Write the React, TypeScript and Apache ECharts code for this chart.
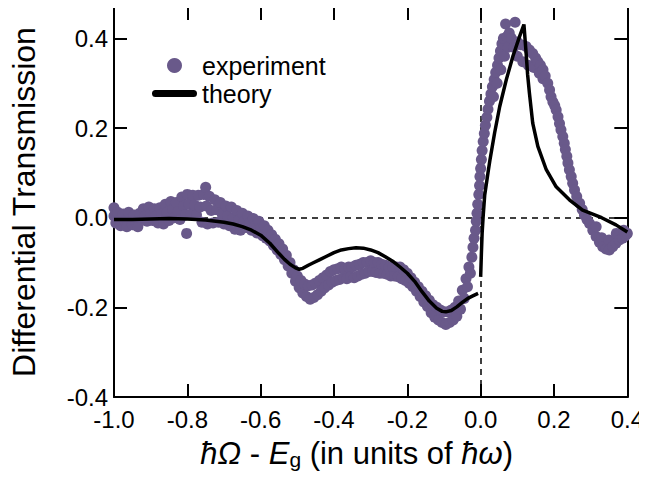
import React, { useEffect, useRef } from "react";
import * as echarts from "echarts";

const FONT = "'Liberation Sans', Arial, Helvetica, sans-serif";
const DOT_COLOR = "#69598a";

const X_MIN = -1.0;
const X_MAX = 0.4;
const Y_MIN = -0.4;
const Y_MAX = 0.47;
const TICK_STEP = 0.2;

const xTitle = "{i|ħΩ} - {i|E}{s|g} (in units of {i|ħω})";
const yTitle = "Differential Transmission";
const seriesNames = ["experiment", "theory"];

// experiment: measured differential transmission (dots)
const experiment: [number, number][] = [
  [-1.0, 0.022], [-1.0, 0.004], [-0.995, -0.012],
  [-0.99, 0.012], [-0.985, -0.004], [-0.982, -0.018],
  [-0.975, 0.008], [-0.97, -0.008], [-0.965, -0.02],
  [-0.96, 0.012], [-0.955, -0.002], [-0.95, -0.016],
  [-0.945, 0.006], [-0.94, -0.01], [-0.935, -0.02],
  [-0.93, 0.01], [-0.925, -0.004], [-0.92, 0.02],
  [-0.915, 0.004], [-0.91, -0.008], [-0.905, 0.024],
  [-0.9, 0.01], [-0.895, -0.006], [-0.89, 0.02],
  [-0.885, 0.004], [-0.88, -0.012], [-0.875, 0.022],
  [-0.87, 0.008], [-0.865, -0.014], [-0.86, 0.03],
  [-0.855, 0.012], [-0.85, -0.006], [-0.845, 0.036],
  [-0.84, 0.018], [-0.835, 0.0], [-0.83, 0.034],
  [-0.825, 0.014], [-0.82, -0.004], [-0.815, 0.046],
  [-0.81, 0.026], [-0.805, 0.006], [-0.8, 0.052],
  [-0.802, -0.035], [-0.795, 0.03], [-0.79, 0.008],
  [-0.785, 0.05], [-0.78, 0.028], [-0.775, 0.006],
  [-0.77, 0.05], [-0.765, 0.024], [-0.76, -0.01],
  [-0.755, 0.052], [-0.75, 0.068], [-0.748, 0.026], [-0.745, -0.014],
  [-0.74, 0.048], [-0.735, 0.016], [-0.73, -0.012],
  [-0.725, 0.04], [-0.72, 0.018], [-0.715, -0.01],
  [-0.71, 0.034], [-0.705, 0.008], [-0.7, -0.014],
  [-0.695, 0.026], [-0.69, 0.004], [-0.685, -0.018],
  [-0.68, 0.024], [-0.675, 0.0], [-0.67, -0.026],
  [-0.665, 0.016], [-0.66, -0.006], [-0.655, -0.028],
  [-0.65, 0.01], [-0.645, -0.008], [-0.64, -0.022],
  [-0.635, 0.004], [-0.63, -0.012], [-0.625, -0.028],
  [-0.62, -0.002], [-0.615, -0.018], [-0.61, -0.034],
  [-0.605, -0.008], [-0.6, -0.024], [-0.595, -0.04],
  [-0.59, -0.018], [-0.585, -0.046],
  [-0.58, -0.028], [-0.575, -0.052],
  [-0.57, -0.038], [-0.565, -0.062],
  [-0.56, -0.048], [-0.555, -0.072],
  [-0.55, -0.058], [-0.545, -0.082],
  [-0.54, -0.07], [-0.535, -0.094],
  [-0.53, -0.084], [-0.525, -0.108],
  [-0.52, -0.1], [-0.515, -0.124],
  [-0.51, -0.116], [-0.505, -0.142],
  [-0.5, -0.13], [-0.495, -0.156],
  [-0.49, -0.14], [-0.485, -0.168],
  [-0.48, -0.148], [-0.475, -0.176],
  [-0.47, -0.152], [-0.465, -0.182],
  [-0.46, -0.15], [-0.455, -0.178],
  [-0.45, -0.146], [-0.445, -0.172],
  [-0.44, -0.14], [-0.435, -0.164],
  [-0.43, -0.134], [-0.425, -0.156],
  [-0.42, -0.128], [-0.415, -0.15],
  [-0.41, -0.12], [-0.405, -0.144],
  [-0.4, -0.116], [-0.395, -0.14],
  [-0.39, -0.114], [-0.385, -0.138],
  [-0.38, -0.11], [-0.375, -0.134],
  [-0.37, -0.114], [-0.365, -0.136],
  [-0.36, -0.11], [-0.355, -0.132],
  [-0.35, -0.11], [-0.345, -0.134],
  [-0.34, -0.106], [-0.335, -0.13],
  [-0.33, -0.104], [-0.325, -0.126],
  [-0.32, -0.1], [-0.315, -0.124],
  [-0.31, -0.1], [-0.305, -0.12],
  [-0.3, -0.096], [-0.295, -0.12],
  [-0.29, -0.1], [-0.285, -0.122],
  [-0.28, -0.1], [-0.275, -0.124],
  [-0.27, -0.104], [-0.265, -0.124],
  [-0.26, -0.106], [-0.255, -0.126],
  [-0.25, -0.11], [-0.245, -0.13],
  [-0.24, -0.11], [-0.235, -0.13],
  [-0.23, -0.11], [-0.225, -0.132],
  [-0.22, -0.11], [-0.215, -0.136],
  [-0.21, -0.116], [-0.205, -0.14],
  [-0.2, -0.124], [-0.195, -0.146],
  [-0.19, -0.134], [-0.185, -0.154],
  [-0.18, -0.144], [-0.175, -0.164],
  [-0.17, -0.154], [-0.165, -0.176],
  [-0.16, -0.164], [-0.155, -0.188],
  [-0.15, -0.174], [-0.145, -0.198],
  [-0.14, -0.184], [-0.135, -0.212],
  [-0.13, -0.194], [-0.125, -0.222],
  [-0.12, -0.2], [-0.115, -0.228],
  [-0.11, -0.206], [-0.105, -0.234],
  [-0.1, -0.21], [-0.095, -0.238],
  [-0.09, -0.21], [-0.085, -0.234],
  [-0.08, -0.206], [-0.075, -0.228],
  [-0.07, -0.2], [-0.065, -0.22],
  [-0.06, -0.186], [-0.055, -0.204],
  [-0.05, -0.162], [-0.045, -0.18],
  [-0.04, -0.136], [-0.036, -0.154],
  [-0.032, -0.11], [-0.028, -0.124],
  [-0.024, -0.088], [-0.021, -0.066],
  [-0.018, -0.046], [-0.014, -0.028],
  [-0.012, -0.008], [-0.01, 0.01],
  [-0.008, 0.03], [-0.005, 0.052],
  [-0.003, 0.072], [-0.002, 0.092],
  [0.0, 0.11], [0.002, 0.13],
  [0.004, 0.15], [0.007, 0.17],
  [0.01, 0.188], [0.013, 0.206],
  [0.017, 0.224], [0.02, 0.242],
  [0.024, 0.26], [0.028, 0.276],
  [0.032, 0.292], [0.037, 0.308],
  [0.041, 0.324], [0.046, 0.34],
  [0.05, 0.356], [0.054, 0.372],
  [0.058, 0.388], [0.062, 0.4],
  [0.035, 0.27], [0.045, 0.3], [0.055, 0.33], [0.065, 0.36], [0.075, 0.38],
  [0.068, 0.432], [0.072, 0.404],
  [0.078, 0.412], [0.084, 0.4],
  [0.094, 0.436], [0.09, 0.38],
  [0.1, 0.392], [0.1, 0.36], [0.11, 0.386], [0.115, 0.348],
  [0.124, 0.382], [0.13, 0.34], [0.133, 0.374], [0.142, 0.366],
  [0.145, 0.335], [0.15, 0.356], [0.156, 0.348], [0.16, 0.322],
  [0.163, 0.34], [0.17, 0.33], [0.17, 0.31], [0.176, 0.316],
  [0.183, 0.3], [0.188, 0.285], [0.192, 0.27], [0.197, 0.258],
  [0.202, 0.25], [0.206, 0.24], [0.211, 0.225], [0.215, 0.21],
  [0.219, 0.196], [0.224, 0.181], [0.228, 0.166], [0.231, 0.152],
  [0.235, 0.137], [0.238, 0.122], [0.242, 0.107], [0.247, 0.092],
  [0.251, 0.077], [0.256, 0.062], [0.262, 0.047], [0.27, 0.032],
  [0.277, 0.018], [0.283, 0.006], [0.29, -0.004], [0.297, -0.013],
  [0.306, -0.028], [0.315, -0.042], [0.315, -0.02], [0.324, -0.055],
  [0.33, -0.045], [0.333, -0.065], [0.342, -0.07], [0.35, -0.05],
  [0.351, -0.072], [0.36, -0.065], [0.369, -0.057], [0.37, -0.035],
  [0.378, -0.05], [0.387, -0.046], [0.39, -0.028], [0.395, -0.04],
  [0.4, -0.035],
];

// theory: calculated curve, below the gap (E < Eg) and above it
const theoryBelow: [number, number][] = [
  [-1.0, -0.004], [-0.95, -0.004], [-0.9, -0.003], [-0.85, -0.002],
  [-0.8, -0.003], [-0.75, -0.005], [-0.7, -0.01], [-0.675, -0.014],
  [-0.65, -0.02], [-0.625, -0.028], [-0.6, -0.039], [-0.575, -0.057],
  [-0.55, -0.08], [-0.535, -0.093], [-0.52, -0.104], [-0.505, -0.112],
  [-0.495, -0.115], [-0.485, -0.113], [-0.47, -0.106], [-0.455, -0.1],
  [-0.44, -0.094], [-0.42, -0.086], [-0.4, -0.078], [-0.38, -0.072],
  [-0.36, -0.069], [-0.34, -0.067], [-0.32, -0.068], [-0.3, -0.072],
  [-0.28, -0.078], [-0.26, -0.087], [-0.24, -0.097], [-0.22, -0.11],
  [-0.2, -0.124], [-0.18, -0.142], [-0.16, -0.165], [-0.14, -0.186],
  [-0.12, -0.202], [-0.105, -0.209], [-0.095, -0.21], [-0.08, -0.207],
  [-0.065, -0.199], [-0.05, -0.189], [-0.035, -0.18], [-0.02, -0.174],
  [-0.007, -0.169],
];
const theoryAbove: [number, number][] = [
  [0.0, -0.132], [0.002, -0.08], [0.004, -0.035], [0.007, 0.005],
  [0.011, 0.05], [0.016, 0.078], [0.02, 0.1], [0.025, 0.127],
  [0.038, 0.189], [0.052, 0.248], [0.07, 0.308], [0.088, 0.36],
  [0.106, 0.404], [0.118, 0.431], [0.124, 0.367], [0.128, 0.32],
  [0.133, 0.278], [0.142, 0.211], [0.156, 0.159], [0.179, 0.107],
  [0.206, 0.069], [0.242, 0.04], [0.278, 0.017], [0.33, 0.0],
  [0.369, -0.016], [0.4, -0.032],
];

const fmt = (v: number) => (Math.abs(v) < 1e-9 ? 0 : v).toFixed(1);

const axisLine = { show: true, onZero: false, lineStyle: { color: "#000", width: 2 } };
const axisTick = { show: true, inside: true, length: 13, lineStyle: { color: "#000", width: 2 } };

const BAR_ICON =
  "path://M3.5,0 L41.5,0 A3.5,3.5 0 0 1 41.5,7 L3.5,7 A3.5,3.5 0 0 1 3.5,0 Z";

export default function App() {
  const ref = useRef<HTMLDivElement>(null);
  useEffect(() => {
    if (!ref.current) return;
    const chart = echarts.init(ref.current, null, { renderer: "svg" });
    const option: any = {
      animation: false,
      backgroundColor: "#fff",
      grid: { left: 113, right: 19, top: 7, bottom: 83, containLabel: false },
      legend: {
        orient: "vertical",
        left: 152,
        top: 53,
        padding: 0,
        itemGap: 3,
        itemWidth: 45,
        itemHeight: 15,
        textStyle: { color: "#000", fontSize: 25, fontFamily: FONT },
        data: [
          { name: seriesNames[0], icon: "circle" },
          { name: seriesNames[1], icon: BAR_ICON, itemStyle: { color: "#000" } },
        ],
      },
      xAxis: [
        {
          type: "value",
          min: X_MIN,
          max: X_MAX,
          interval: TICK_STEP,
          position: "bottom",
          axisLine,
          axisTick,
          splitLine: { show: false },
          axisLabel: { color: "#000", fontSize: 24, fontFamily: FONT, margin: 10, formatter: fmt },
          name: xTitle,
          nameLocation: "middle",
          nameGap: 40,
          nameTextStyle: {
            color: "#000",
            fontSize: 31,
            fontFamily: FONT,
            padding: [0, 28, 0, 0],
            rich: {
              i: { fontStyle: "italic", fontSize: 31, fontFamily: FONT, color: "#000" },
              s: { fontSize: 21, fontFamily: FONT, color: "#000", padding: [12, 0, 0, 0] },
            },
          },
        },
        {
          type: "value",
          min: X_MIN,
          max: X_MAX,
          interval: TICK_STEP,
          position: "top",
          axisLine,
          axisTick,
          splitLine: { show: false },
          axisLabel: { show: false },
        },
      ],
      yAxis: [
        {
          type: "value",
          min: Y_MIN,
          max: Y_MAX,
          interval: TICK_STEP,
          position: "left",
          axisLine,
          axisTick,
          splitLine: { show: false },
          axisLabel: {
            color: "#000",
            fontSize: 24,
            fontFamily: FONT,
            margin: 6,
            showMaxLabel: false,
            formatter: fmt,
          },
          name: yTitle,
          nameLocation: "middle",
          nameGap: 74,
          nameTextStyle: { color: "#000", fontSize: 32, fontFamily: FONT },
        },
        {
          type: "value",
          min: Y_MIN,
          max: Y_MAX,
          interval: TICK_STEP,
          position: "right",
          axisLine,
          axisTick,
          splitLine: { show: false },
          axisLabel: { show: false },
        },
      ],
      series: [
        {
          name: seriesNames[0],
          type: "scatter",
          data: experiment,
          symbol: "circle",
          symbolSize: 11,
          itemStyle: { color: DOT_COLOR, opacity: 1 },
          z: 2,
          markLine: {
            silent: true,
            z: 1,
            symbol: ["none", "none"],
            label: { show: false },
            lineStyle: { color: "#000", type: [6, 5], width: 1.5 },
            data: [{ xAxis: 0 }, { yAxis: 0 }],
          },
        },
        {
          name: seriesNames[1],
          type: "line",
          data: theoryBelow,
          showSymbol: false,
          symbol: "none",
          smooth: false,
          lineStyle: { color: "#000", width: 3.5 },
          itemStyle: { color: "#000" },
          z: 3,
        },
        {
          name: seriesNames[1],
          type: "line",
          data: theoryAbove,
          showSymbol: false,
          symbol: "none",
          smooth: false,
          lineStyle: { color: "#000", width: 3.5 },
          itemStyle: { color: "#000" },
          z: 3,
        },
      ],
    };
    chart.setOption(option);
    return () => chart.dispose();
  }, []);
  return <div ref={ref} style={{ width: 647, height: 480, margin: -8 }} />;
}
